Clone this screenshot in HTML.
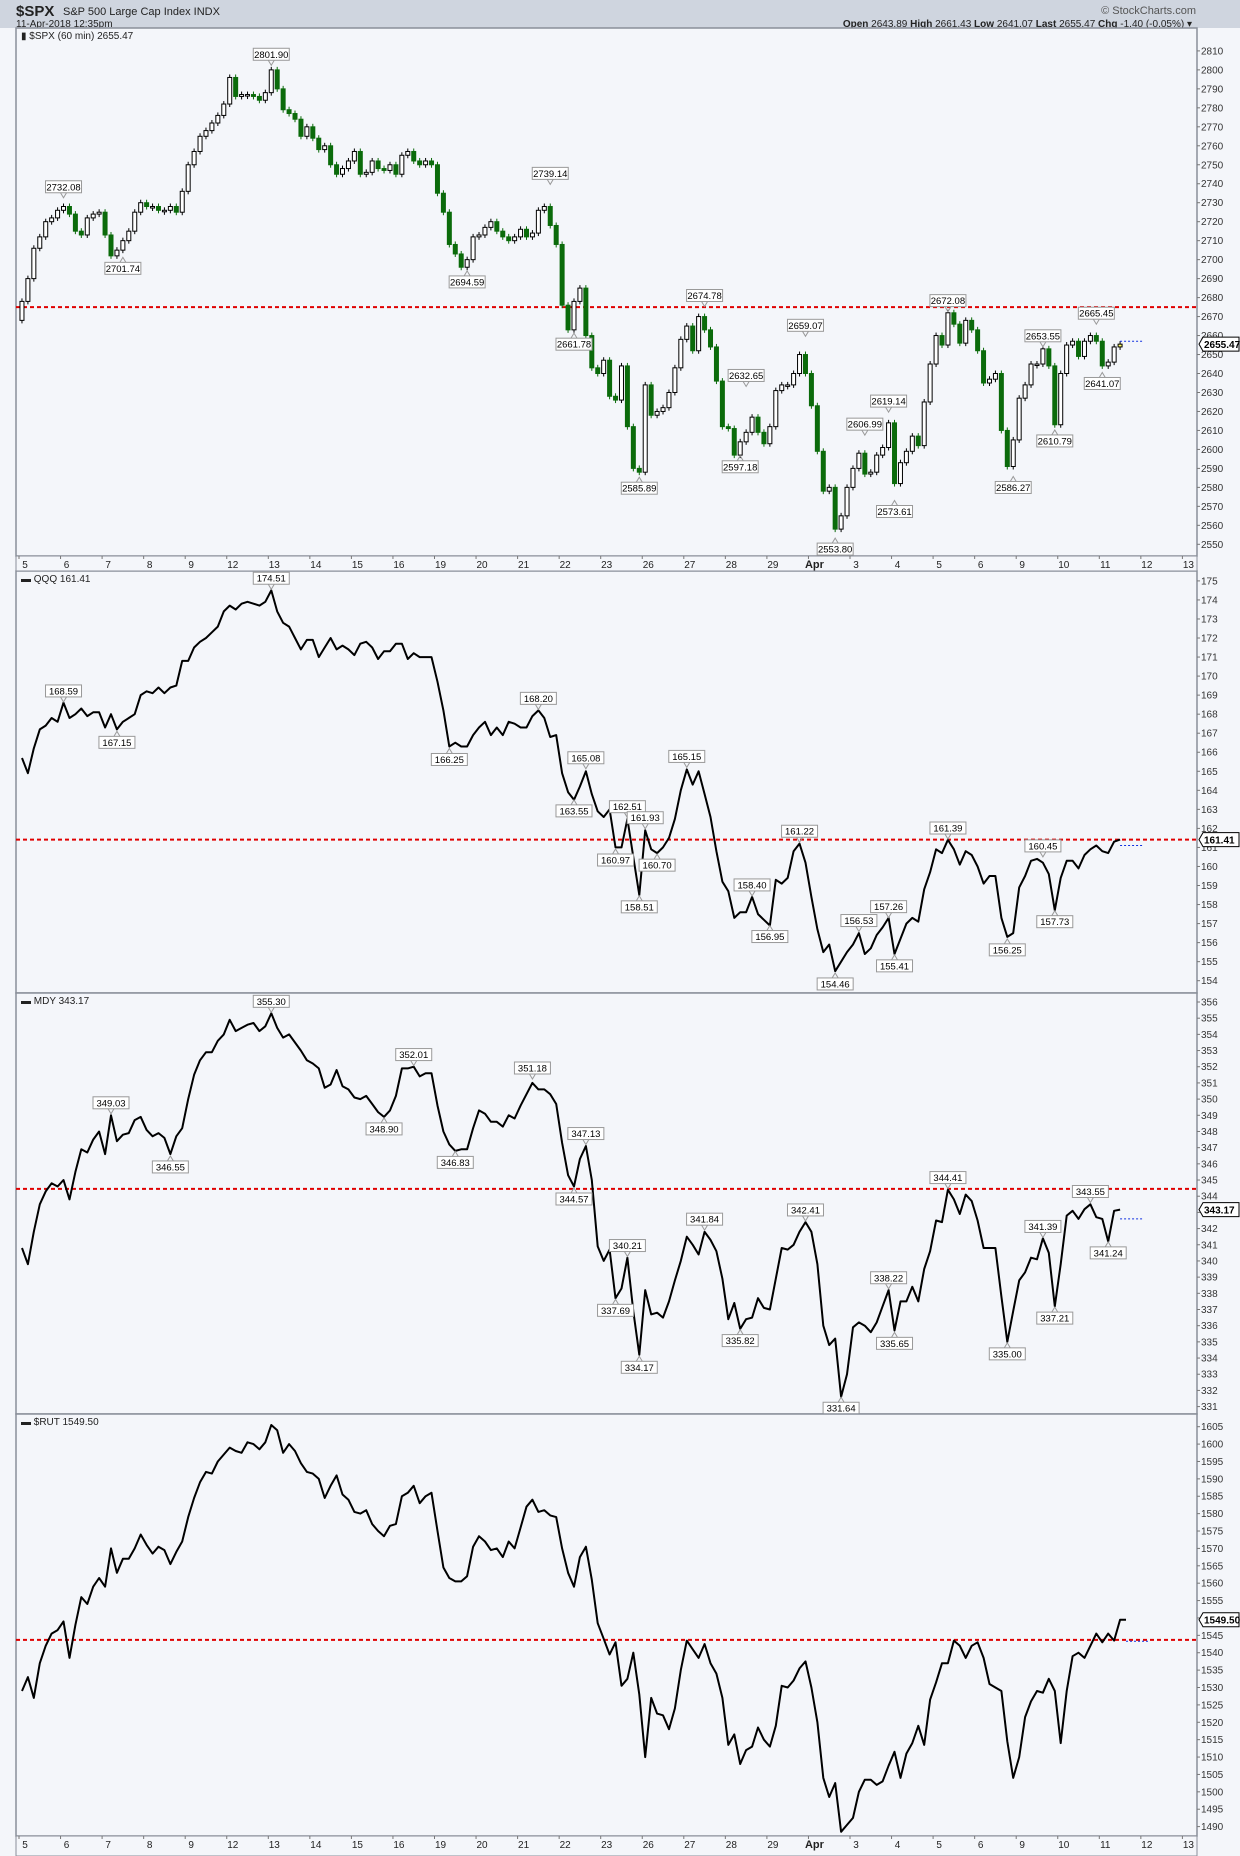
<!DOCTYPE html>
<html><head><meta charset="utf-8"><title>$SPX StockCharts</title>
<style>
html,body{margin:0;padding:0;background:#f4f6fa;}
svg{display:block;font-family:"Liberation Sans Narrow","Liberation Sans",sans-serif;}
</style></head>
<body>
<svg id="chart" width="1240" height="1856" viewBox="0 0 1240 1856" xmlns="http://www.w3.org/2000/svg">
<rect x="0" y="0" width="1240" height="1856" fill="#f4f6fa"/>
<rect x="0" y="0" width="1240" height="28" fill="#cfd5df"/>
<text x="16" y="16" font-family="Liberation Sans" font-weight="bold" font-size="15" fill="#222">$SPX</text>
<text x="63" y="15" font-size="11" fill="#222">S&amp;P 500 Large Cap Index  INDX</text>
<text x="16" y="27" font-size="10" fill="#222">11-Apr-2018 12:35pm</text>
<text x="1196" y="14" text-anchor="end" font-size="11" fill="#555">© StockCharts.com</text>
<text x="1192" y="27" text-anchor="end" font-size="10" fill="#222"><tspan font-weight="bold">Open</tspan> 2643.89 <tspan font-weight="bold">High</tspan> 2661.43 <tspan font-weight="bold">Low</tspan> 2641.07 <tspan font-weight="bold">Last</tspan> 2655.47 <tspan font-weight="bold">Chg</tspan> -1.40 (-0.05%) ▾</text>
<g id="panels"></g>
</svg>
<script>
// ---------- data ----------
const dayLabels = ["5","6","7","8","9","12","13","14","15","16","19","20","21","22","23","26","27","28","29","Apr","3","4","5","6","9","10","11","12","13"];
const spxClose = [
2678,2690,2706,2712,2720,2722,2726, 2728,2724,2715,2713,2722,2724,2725, 2713,2702,2705,2710,2715,2725,2730,
2728,2728,2726,2726,2728,2725,2736, 2750,2757,2765,2768,2772,2776,2782, 2796,2786,2787,2787,2786,2784,2788,
2800,2790,2779,2777,2774,2765,2770, 2764,2758,2760,2750,2745,2748,2752, 2757,2745,2746,2752,2748,2747,2750,
2745,2755,2757,2752,2750,2752,2750, 2735,2725,2708,2703,2696,2700,2712, 2713,2717,2720,2715,2712,2710,2712,
2716,2712,2714,2726,2728,2718,2708, 2676,2663,2678,2685,2660,2643,2640, 2647,2628,2626,2644,2612,2590,2588,
2634,2618,2620,2622,2630,2643,2658, 2665,2652,2670,2663,2654,2636,2612, 2611,2597,2604,2609,2617,2609,2603,
2612,2631,2634,2634,2640,2650,2640, 2623,2599,2578,2580,2558,2565,2580, 2590,2598,2587,2588,2597,2601,2614,
2582,2593,2599,2607,2602,2625,2645, 2660,2655,2672,2666,2656,2668,2663, 2652,2635,2637,2640,2610,2591,2605,
2627,2634,2645,2645,2653,2644,2613, 2640,2655,2657,2649,2657,2660,2657, 2644,2646,2654,2655.47];
const qqqClose = [
165.7,164.9,166.2,167.2,167.4,167.8,167.6, 168.6,167.8,168.0,168.3,167.9,168.1,168.1, 167.3,168.0,167.2,167.6,167.8,168.0,169.0,
169.2,169.1,169.4,169.1,169.4,169.5,170.8, 170.8,171.5,171.8,172.0,172.3,172.6,173.4, 173.7,173.5,173.8,173.9,173.8,173.7,173.9,
174.5,173.4,172.8,172.6,172.0,171.4,171.9, 171.9,171.0,171.5,172.0,171.4,171.6,171.4, 171.1,171.7,171.8,171.5,170.9,171.3,171.3,
171.7,171.7,170.9,171.2,171.0,171.0,171.0, 169.7,168.2,166.3,166.5,166.3,166.3,166.9, 167.3,167.6,166.9,167.3,166.9,167.6,167.5,
167.3,167.3,167.9,168.2,167.8,166.8,166.9, 164.9,163.9,163.5,164.2,165.0,163.8,162.9, 162.6,163.0,161.0,161.0,162.5,160.5,158.5,
161.9,160.9,160.7,161.0,161.5,162.5,164.0, 165.1,164.3,165.0,163.8,162.6,160.8,159.2, 158.7,157.3,157.6,157.6,158.4,157.5,157.2,
156.9,159.3,159.1,159.4,160.8,161.2,160.2, 158.4,156.7,155.5,155.9,154.5,155.0,155.5, 155.9,156.5,155.4,155.7,156.4,156.8,157.3,
155.4,156.2,157.0,157.3,157.1,158.8,159.7, 160.9,160.7,161.4,160.9,160.1,160.8,160.6, 160.0,159.1,159.5,159.5,157.3,156.3,156.5,
158.9,159.5,160.3,160.4,160.2,159.6,157.7, 159.4,160.3,160.3,159.9,160.6,160.9,161.1, 160.8,160.7,161.3,161.41];
const mdyClose = [
340.8,339.8,341.8,343.5,344.3,344.8,344.6, 345.0,343.8,345.5,346.9,346.7,347.5,348.0, 346.6,349.0,347.4,347.8,347.9,348.7,348.9,
348.1,347.7,347.9,347.6,346.6,347.7,348.2, 350.0,351.5,352.4,352.9,352.9,353.6,354.0, 354.9,354.2,354.4,354.6,354.7,354.2,354.5,
355.3,354.4,353.8,354.0,353.5,353.0,352.4, 352.2,351.9,350.7,350.9,351.8,350.8,350.6, 350.1,350.0,350.2,349.7,349.2,348.9,349.3,
350.2,351.9,351.9,352.0,351.4,351.6,351.6, 349.6,348.0,347.2,346.8,346.9,346.9,348.2, 349.3,349.1,348.6,348.6,348.3,349.0,348.8,
349.6,350.3,351.0,350.6,350.6,350.3,349.7, 347.3,345.3,344.6,346.3,347.1,345.0,340.9, 340.0,340.7,337.7,338.3,340.2,336.9,334.2,
338.2,336.7,336.8,336.5,337.5,338.8,340.0, 341.5,341.0,340.4,341.8,341.3,340.6,338.9, 336.4,337.4,335.8,336.4,336.5,337.7,337.1,
337.0,338.9,340.8,340.7,341.0,341.8,342.4, 341.8,339.8,336.0,334.8,335.2,331.6,333.0, 335.9,336.2,336.0,335.6,336.2,337.2,338.2,
335.7,337.5,337.5,338.4,337.5,339.5,340.6, 342.5,342.4,344.4,343.8,342.9,344.1,343.7, 342.5,340.8,340.8,340.8,337.8,335.0,336.9,
338.8,339.3,340.2,340.1,341.4,340.5,337.2, 339.8,342.8,343.1,342.6,343.2,343.5,342.7, 342.6,341.2,343.1,343.17];
const rutClose = [
1529,1533,1527,1537,1542,1545.5,1546.5, 1549,1538.5,1548,1556,1554,1559,1561.5, 1559,1570,1563,1567,1567,1570,1574,
1571,1568.5,1570.5,1569.5,1565.5,1569,1572, 1579,1584.5,1589,1592,1591.5,1595,1597, 1599,1598,1597.5,1600.5,1600,1598.5,1600.5,
1605.5,1604,1597.5,1600,1598,1594.5,1592, 1591.5,1590,1584.5,1588,1591,1585.5,1584, 1580.5,1580,1581,1577,1575,1573.5,1576.5,
1577,1585,1586,1588,1583,1585,1586, 1575,1564.5,1561.5,1560.5,1560.5,1562,1570.5, 1573.5,1572,1569.5,1570,1567.5,1572,1570,
1576,1582,1584,1580.5,1581,1579.5,1579, 1570,1563,1559,1567.5,1570.5,1561,1548.5, 1544,1539.5,1543,1530.5,1532.5,1540,1528,
1510,1527,1522.5,1522,1518,1524,1535, 1543.5,1541,1538.5,1542.5,1537,1534,1527, 1513.5,1516.5,1508,1512,1513,1518.5,1515,
1513,1519,1530.5,1530,1532,1535.5,1537.5, 1530,1520,1504,1498.5,1502.5,1488.5,1490.5, 1492.5,1500,1503.5,1503.5,1502,1503,1507.5,
1511.5,1504,1511,1514,1519,1513.5,1526.5, 1531.5,1537,1537,1543.5,1542,1538.5,1542, 1543,1538.5,1531,1530,1529,1514.5,1504,
1510,1521.5,1526,1529,1528.5,1532.5,1529, 1514,1529,1539,1540,1538.5,1542,1545.5, 1543,1545.5,1543.5,1549.5,1549.5];
const spxTicks=[2550,2560,2570,2580,2590,2600,2610,2620,2630,2640,2650,2660,2670,2680,2690,2700,2710,2720,2730,2740,2750,2760,2770,2780,2790,2800,2810];
const qqqTicks=[154,155,156,157,158,159,160,161,162,163,164,165,166,167,168,169,170,171,172,173,174,175];
const mdyTicks=[331,332,333,334,335,336,337,338,339,340,341,342,343,344,345,346,347,348,349,350,351,352,353,354,355,356];
const rutTicks=[1490,1495,1500,1505,1510,1515,1520,1525,1530,1535,1540,1545,1550,1555,1560,1565,1570,1575,1580,1585,1590,1595,1600,1605];
const spxNotes=[[7,2732.08,1],[17,2701.74,0],[42,2801.90,1],[75,2694.59,0],[89,2739.14,1],[93,2661.78,0],[115,2674.78,1],[104,2585.89,0],[122,2632.65,1],[121,2597.18,0],[132,2659.07,1],[137,2553.80,0],[142,2606.99,1],[146,2619.14,1],[147,2573.61,0],[156,2672.08,1],[167,2586.27,0],[172,2653.55,1],[174,2610.79,0],[181,2665.45,1],[182,2641.07,0]];
const qqqNotes=[[7,168.59,1],[16,167.15,0],[42,174.51,1],[72,166.25,0],[87,168.20,1],[93,163.55,0],[95,165.08,1],[102,162.51,1],[100,160.97,0],[104,158.51,0],[105,161.93,1],[107,160.70,0],[112,165.15,1],[123,158.40,1],[126,156.95,0],[131,161.22,1],[137,154.46,0],[141,156.53,1],[146,157.26,1],[147,155.41,0],[156,161.39,1],[166,156.25,0],[172,160.45,1],[174,157.73,0]];
const mdyNotes=[[15,349.03,1],[25,346.55,0],[42,355.30,1],[66,352.01,1],[61,348.90,0],[73,346.83,0],[86,351.18,1],[93,344.57,0],[95,347.13,1],[102,340.21,1],[100,337.69,0],[104,334.17,0],[115,341.84,1],[121,335.82,0],[132,342.41,1],[138,331.64,0],[146,338.22,1],[147,335.65,0],[156,344.41,1],[166,335.00,0],[172,341.39,1],[174,337.21,0],[180,343.55,1],[183,341.24,0]];
const levels=[2675,161.41,344.45,1543.7];

// ---------- layout ----------
const NS="http://www.w3.org/2000/svg";
const root=document.getElementById("panels");
const X0=16, X1=1197;
function xAt(i){return 19+41.55*Math.floor(i/7)+5.936*(i%7+0.5);}
function mk(tag,attrs,parent){const e=document.createElementNS(NS,tag);for(const k in attrs)e.setAttribute(k,attrs[k]);(parent||root).appendChild(e);return e;}
function scaleY(v0,y0,v1,y1){return v=>y0+(v-v0)*(y1-y0)/(v1-v0);}

const panels=[
 {name:"spx",top:28,bot:556,y:scaleY(2810,50.9,2550,544.3),ticks:spxTicks,notes:spxNotes,level:levels[0],last:2655.47,title:"$SPX (60 min) 2655.47"},
 {name:"qqq",top:571,bot:993,y:scaleY(175,580.9,154,980.7),ticks:qqqTicks,notes:qqqNotes,level:levels[1],last:161.41,data:qqqClose,title:"QQQ 161.41"},
 {name:"mdy",top:993,bot:1414,y:scaleY(356,1002,331,1406.6),ticks:mdyTicks,notes:mdyNotes,level:levels[2],last:343.17,data:mdyClose,title:"MDY 343.17"},
 {name:"rut",top:1414,bot:1836,y:scaleY(1605,1426.7,1490,1826.6),ticks:rutTicks,notes:[],level:levels[3],last:1549.50,data:rutClose,title:"$RUT 1549.50"}
];

function dateAxis(top,bot,nm){
  const g=mk("g",{});
  
  
  mk("rect",{x:X0,y:top,width:X1-X0,height:bot-top,fill:"#f4f6fa",stroke:"#8a8f99"},g);
  dayLabels.forEach((lab,d)=>{
    const x=19+41.55*d;
    mk("line",{x1:x,y1:top,x2:x,y2:top+3,stroke:"#777"},g);
    const t=mk("text",{x:x+6,y:top+12,"text-anchor":"middle","font-size":lab==="Apr"?"11":"10","font-weight":lab==="Apr"?"bold":"normal",fill:"#222"},g);
    
    
    t.textContent=lab;
  });
}

panels.forEach(p=>{
  const g=mk("g",{});
  
  
  mk("rect",{x:X0,y:p.top,width:X1-X0,height:p.bot-p.top,fill:"#f4f6fa",stroke:"#8a8f99","stroke-width":1.5},g);
  p.ticks.forEach(v=>{
    const yy=p.y(v);
    mk("line",{x1:X1,y1:yy,x2:X1+3,y2:yy,stroke:"#777"},g);
    const t=mk("text",{x:X1+4,y:yy+3.5,"font-size":"10",fill:"#333"},g);
    
    
    t.textContent=v;
  });
  const tt=mk("text",{x:21,y:p.top+11,"font-size":"10",fill:"#222"},g);
  
  
  tt.textContent=(p.name==="spx"?"\u25AE ":"\u25AC ")+p.title;
  const ly=p.y(p.level);
  const rl=mk("line",{x1:X0,y1:ly,x2:X1,y2:ly,stroke:"#e00000","stroke-width":2,"stroke-dasharray":"4,3"},g);
  
  
  if(p.name==="spx"){
    spxClose.forEach((c,i)=>{
      const o=i===0?2668:spxClose[i-1];
      const x=xAt(i), yo=p.y(o), yc=p.y(c);
      const top=Math.min(yo,yc), h=Math.max(1.5,Math.abs(yo-yc));
      const down=c<o;
      const col=down?"#0b6b0b":"#000";
      const w=mk("line",{x1:x,y1:top-3,x2:x,y2:top+h+3,stroke:col,"stroke-width":1},g);
      
      
      const r=mk("rect",{x:x-2,y:top,width:4,height:h,fill:down?"#0b6b0b":(i===spxClose.length-1?"#ffff66":"#fff"),stroke:col,"stroke-width":1},g);
      
      
    });
  } else {
    const d=p.data.map((v,i)=>(i?"L":"M")+xAt(i).toFixed(1)+","+p.y(v).toFixed(1)).join("");
    const path=mk("path",{d:d,fill:"none",stroke:"#000","stroke-width":2,"stroke-linejoin":"round"},g);
    
    
  }
  const lastI=(p.name==="spx"?spxClose.length:p.data.length)-1;
  const lyv=p.y(p.name==="spx"?2657:(p.name==="qqq"?161.1:(p.name==="mdy"?342.6:1543.3)));
  mk("line",{x1:xAt(lastI),y1:lyv,x2:xAt(lastI)+22,y2:lyv,stroke:"#1030e0","stroke-width":1,"stroke-dasharray":"2,2"},g);
  const yl=p.y(p.last);
  const tag=mk("g",{},g);
  
  
  mk("path",{d:`M${X1+2},${yl} L${X1+6},${yl-7} L${1239},${yl-7} L${1239},${yl+7} L${X1+6},${yl+7} Z`,fill:"#fff",stroke:"#000","stroke-width":1},tag);
  const lt=mk("text",{x:X1+7,y:yl+4,"font-size":"10","font-weight":"bold",fill:"#000"},tag);
  lt.textContent=p.last.toFixed(2);
  p.notes.forEach(n=>{
    const x=xAt(n[0]), yv=p.y(n[1]), above=n[2]===1;
    const a=mk("g",{},g);
    
    
    const bw=36,bh=12;
    const by=above?yv-6-bh:yv+6;
    mk("path",{d:above?`M${x-3},${yv-6} L${x},${yv-1} L${x+3},${yv-6}`:`M${x-3},${yv+6} L${x},${yv+1} L${x+3},${yv+6}`,fill:"none",stroke:"#999"},a);
    mk("rect",{x:x-bw/2,y:by,width:bw,height:bh,fill:"#fff",stroke:"#999"},a);
    const t=mk("text",{x:x,y:by+9.5,"text-anchor":"middle","font-size":"9.5",fill:"#000"},a);
    t.textContent=n[1].toFixed(2);
  });
});
dateAxis(556,571,"date-axis-top");
dateAxis(1836,1856,"date-axis-bottom");
</script>
</body></html>
